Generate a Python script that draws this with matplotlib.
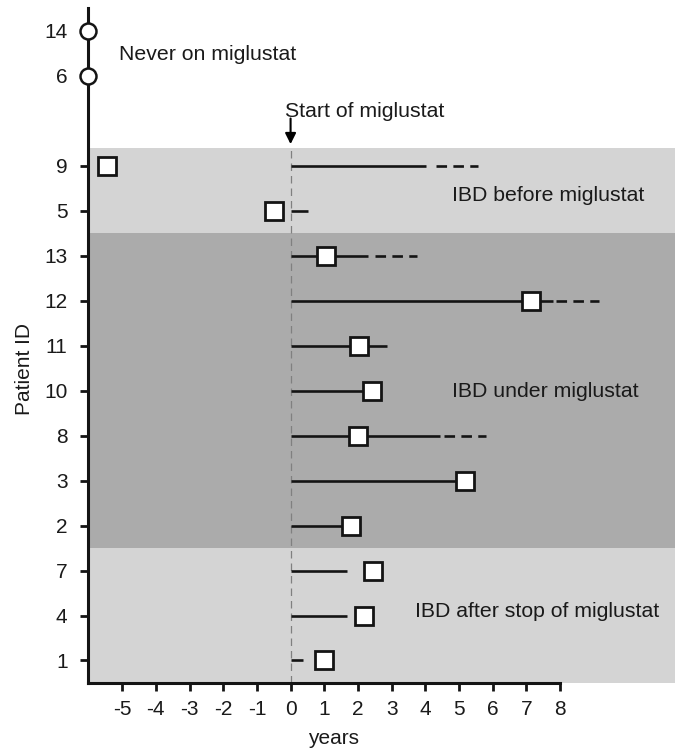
import matplotlib
matplotlib.use('Agg')
from matplotlib import pyplot as plt

plt.rcParams['font.family'] = ['Liberation Sans', 'DejaVu Sans']

# Patients in the order they are drawn from bottom to top
patient_ids = ['1', '4', '7', '2', '3', '8', '10', '11', '12', '13', '5', '9']
row_pos = [0, 1, 2, 3, 4, 5, 6, 7, 8, 9, 10, 11]

# Year of IBD onset relative to start of miglustat
ibd_year = [1.0, 2.19, 2.44, 1.8, 5.17, 2.0, 2.42, 2.03, 7.15, 1.04, -0.5, -5.45]
# Treatment duration (solid), continued follow-up (dashed)
treat_end = [0.37, 1.68, 1.68, 1.8, 5.17, 4.44, 2.42, 2.87, 7.78, 2.31, 0.53, 4.03]
dash_start = [None, None, None, None, None, 4.55, None, None, 7.88, 2.51, None, 4.32]
dash_end = [None, None, None, None, None, 5.8, None, None, 9.15, 3.75, None, 5.56]

# Patients never on miglustat
never_ids = ['6', '14']
never_pos = [13, 14]

x_ticks = [-5, -4, -3, -2, -1, 0, 1, 2, 3, 4, 5, 6, 7, 8]

light = '#d4d4d4'
dark = '#ababab'
ink = '#141414'

fig = plt.figure(figsize=(6.75, 7.53), dpi=100)
ax = fig.add_axes([0.131, 0.093, 0.869, 0.896])
ax.set_xlim(-6, 11.41)
ax.set_ylim(-0.5, 14.5)

# group bands
ax.axhspan(-0.5, 2.5, color=light, lw=0, zorder=0)
ax.axhspan(2.5, 9.5, color=dark, lw=0, zorder=0)
ax.axhspan(9.5, 11.4, color=light, lw=0, zorder=0)

# start of miglustat
ax.plot([0, 0], [-0.5, 11.4], color='#808080', lw=0.9, dashes=(6, 4), zorder=1)
ax.annotate('', xy=(0, 11.48), xytext=(0, 12.05),
            arrowprops=dict(arrowstyle='-|>', color='black', lw=1.5,
                            mutation_scale=16, shrinkA=0, shrinkB=0))

for y, te, ds, de in zip(row_pos, treat_end, dash_start, dash_end):
    ax.plot([0, te], [y, y], color=ink, lw=1.9, solid_capstyle='butt', zorder=2)
    if ds is not None:
        ax.plot([ds, de], [y, y], color=ink, lw=1.9, dashes=(4, 2.4),
                dash_capstyle='butt', zorder=2)

ax.plot(ibd_year, row_pos, 's', ms=12.8, mfc='white', mec=ink, mew=2.0,
        zorder=4, clip_on=False)
ax.plot([-6] * len(never_pos), never_pos, 'o', ms=11.5, mfc='white', mec=ink,
        mew=1.8, zorder=5, clip_on=False)

# annotations
txt = dict(fontsize=15.3, color='#1a1a1a', va='baseline')
ax.text(-5.1, 13.36, 'Never on miglustat', **txt)
ax.text(-0.18, 12.09, 'Start of miglustat', **txt)
ax.text(4.8, 10.21, 'IBD before miglustat', **txt)
ax.text(4.8, 5.85, 'IBD under miglustat', **txt)
ax.text(3.68, 0.96, 'IBD after stop of miglustat', **txt)

# axes
for s in ['top', 'right']:
    ax.spines[s].set_visible(False)
for s in ['left', 'bottom']:
    ax.spines[s].set_linewidth(2.2)
    ax.spines[s].set_color(ink)
ax.spines['bottom'].set_bounds(-6, 8)

ax.set_xticks(x_ticks, [str(v) for v in x_ticks])
ax.set_yticks(row_pos + never_pos, patient_ids + never_ids)
ax.tick_params(direction='out', length=6, width=2, color=ink,
               labelsize=15, labelcolor='#1a1a1a')
ax.tick_params(axis='y', pad=9)
ax.tick_params(axis='x', pad=6)

ax.set_xlabel('years', fontsize=15, color='#1a1a1a')
ax.xaxis.label.set_va('baseline')
ax.xaxis.set_label_coords(0.418, -0.0904)
ax.set_ylabel('Patient ID', fontsize=15, color='#1a1a1a')
ax.yaxis.label.set_va('baseline')
ax.yaxis.set_label_coords(-0.0995, 0.465)

fig.savefig('out.png', dpi=100)
